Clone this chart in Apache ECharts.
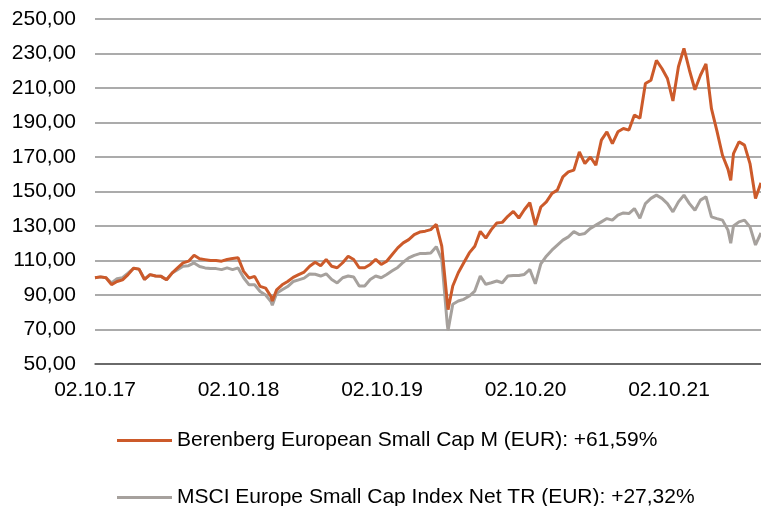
<!DOCTYPE html>
<html>
<head>
<meta charset="utf-8">
<script src="https://cdn.jsdelivr.net/npm/echarts@6/dist/echarts.min.js"></script>
<style>
    html, body { margin: 0; padding: 0; background: #fff; }
    #main { width: 761px; height: 506px; }
</style>
</head>
<body>
<div id="main"></div>
<script>
// dates of the sampled points (about every two weeks, plus a few turning points)
const dates = [
    '2017-10-02', '2017-10-16', '2017-10-30', '2017-11-13', '2017-11-27', '2017-12-11', '2017-12-25',
    '2018-01-08', '2018-01-22', '2018-02-05', '2018-02-19', '2018-03-05', '2018-03-19', '2018-04-02',
    '2018-04-16', '2018-04-30', '2018-05-14', '2018-05-28', '2018-06-11', '2018-06-25', '2018-07-09',
    '2018-07-23', '2018-08-06', '2018-08-20', '2018-09-03', '2018-09-17', '2018-10-01', '2018-10-15',
    '2018-10-29', '2018-11-12', '2018-11-26', '2018-12-10', '2018-12-24', '2018-12-27',
    '2019-01-07', '2019-01-21', '2019-02-04', '2019-02-18', '2019-03-04', '2019-03-18', '2019-04-01',
    '2019-04-15', '2019-04-29', '2019-05-13', '2019-05-27', '2019-06-10', '2019-06-24', '2019-07-08',
    '2019-07-22', '2019-08-05', '2019-08-19', '2019-09-02', '2019-09-16', '2019-09-30', '2019-10-14',
    '2019-10-28', '2019-11-11', '2019-11-25', '2019-12-09', '2019-12-23',
    '2020-01-06', '2020-01-20', '2020-02-03', '2020-02-17', '2020-03-02', '2020-03-16', '2020-03-18',
    '2020-03-30', '2020-04-13', '2020-04-27', '2020-05-11', '2020-05-25', '2020-06-08', '2020-06-22',
    '2020-07-06', '2020-07-20', '2020-08-03', '2020-08-17', '2020-08-31', '2020-09-14', '2020-09-28',
    '2020-10-12', '2020-10-26', '2020-11-09', '2020-11-23', '2020-12-07', '2020-12-21',
    '2021-01-04', '2021-01-18', '2021-02-01', '2021-02-15', '2021-03-01', '2021-03-15', '2021-03-29',
    '2021-04-12', '2021-04-26', '2021-05-10', '2021-05-24', '2021-06-07', '2021-06-21', '2021-07-05',
    '2021-07-19', '2021-08-02', '2021-08-16', '2021-08-30', '2021-09-13', '2021-09-27', '2021-10-11',
    '2021-10-25', '2021-11-08', '2021-11-22', '2021-12-06', '2021-12-20',
    '2022-01-03', '2022-01-17', '2022-01-31', '2022-02-14', '2022-02-28', '2022-03-07', '2022-03-14',
    '2022-03-28', '2022-04-11', '2022-04-25', '2022-05-09', '2022-05-23'
]

const fundValues = [
    100, 100.5, 100, 96, 97.8, 98.8, 101.8,
    105.5, 105, 99, 101.8, 101, 100.8, 98.8,
    102.7, 105.7, 108.6, 109.6, 113, 111, 110.5,
    110, 110, 109.6, 110.6, 111.2, 111.6, 103.7,
    99.8, 100.8, 95, 94, 89, 86.5,
    93, 95.9, 97.8, 100.2, 101.8, 103.3, 106.7,
    109, 107, 110.6, 106.7, 105.8, 108.7, 112.5,
    110.6, 105.8, 105.8, 107.7, 110.6, 107.7, 109.6,
    113.5, 117.3, 120.2, 122.1, 125,
    126.5, 127, 127.9, 131, 118.3, 86, 81.5,
    95.2, 102.9, 108.7, 114.4, 118.3, 126.9, 123,
    127.9, 131.7, 132.1, 135.6, 138.5, 134.6, 139.4,
    143.5, 130.5, 141, 144, 148.8, 150.8,
    158.5, 161.4, 162.4, 173, 166.2, 170, 165.3,
    179.8, 184.6, 177.8, 184.6, 186.5, 185.6, 194.3,
    192.5, 212.6, 214.5, 226, 221.3, 215.5, 202.5,
    222.3, 233, 220.3, 209, 217.4,
    224, 198, 185, 171, 163, 156.5, 172,
    178.8, 176.9, 166.2, 146, 155
]

const indexValues = [
    100, 100.5, 100, 97, 99.4, 100, 102.7,
    105.5, 105, 99, 101.8, 101, 100.8, 98.8,
    102.7, 104.7, 106.7, 107, 108.6, 106.5, 105.7,
    105.3, 105.3, 104.7, 105.7, 104.7, 105.7, 100,
    95.9, 95.9, 92, 90, 86, 84,
    91, 93, 94.9, 97.8, 98.8, 99.8, 102.2,
    102, 101, 102.3, 99, 97, 100, 101,
    100.4, 95.2, 95.2, 99, 101, 100, 101.9,
    104, 106, 109, 111.5, 113,
    114, 114, 114.4, 118, 110.6, 73, 69.5,
    84.6, 86.5, 87.5, 89.4, 92.3, 101, 96.2,
    97.1, 98.1, 97.1, 101, 101.3, 101.3, 101.9,
    104.8, 96.5, 108, 112.5, 116, 118.9,
    121.8, 123.7, 126.7, 125, 125.7, 128.6, 130.5,
    132.4, 134.3, 133.4, 136.3, 137.6, 137.2, 140.1,
    134.5, 143, 146, 147.9, 146, 143, 138.2,
    144, 147.9, 143, 139.1, 145,
    147, 135.3, 134.3, 133.4, 127.6, 120, 130,
    132.4, 133.4, 129.5, 119, 126
]

const seriesNames = [
    'Berenberg European Small Cap M (EUR): +61,59%',
    'MSCI Europe Small Cap Index Net TR (EUR): +27,32%'
]

const xTickLabels = ['02.10.17', '02.10.18', '02.10.19', '02.10.20', '02.10.21']

const DAY = 24 * 3600 * 1000
const start = Date.parse(dates[0])
const lastDay = Math.round((Date.parse(dates[dates.length - 1]) - start) / DAY)

function pairs(values) {
    return dates.map((d, i) => [Math.round((Date.parse(d) - start) / DAY), values[i]])
}

const font = "'Liberation Sans', Arial, sans-serif"

const chart = echarts.init(document.getElementById('main'))

chart.setOption({
    animation: false,
    textStyle: { fontFamily: font },
    grid: { left: 95, right: 0, top: 19, bottom: 142 },
    legend: [
        {
            data: [seriesNames[0]],
            left: 112, top: 425,
            icon: 'rect', itemWidth: 55, itemHeight: 3,
            textStyle: { fontSize: 21, color: '#000', fontFamily: font }
        },
        {
            data: [seriesNames[1]],
            left: 112, top: 482,
            icon: 'rect', itemWidth: 55, itemHeight: 3,
            textStyle: { fontSize: 21, color: '#000', fontFamily: font }
        }
    ],
    xAxis: {
        type: 'value',
        min: 0,
        max: lastDay,
        interval: 365,
        axisLine: { show: true, onZero: false, lineStyle: { color: '#555', width: 1.5 } },
        axisTick: { show: false },
        splitLine: { show: false },
        axisLabel: {
            fontSize: 21, color: '#000', fontFamily: font, margin: 16,
            showMaxLabel: false,
            formatter: v => (v % 365 === 0 ? xTickLabels[v / 365] || '' : '')
        }
    },
    yAxis: {
        type: 'value',
        min: 50,
        max: 250,
        interval: 20,
        axisLine: { show: false },
        axisTick: { show: false },
        splitLine: { lineStyle: { color: '#8f8f8f', width: 1.5 } },
        axisLabel: {
            fontSize: 21, color: '#000', fontFamily: font, margin: 19,
            formatter: v => v.toFixed(2).replace('.', ',')
        }
    },
    series: [
        {
            name: seriesNames[1],
            type: 'line',
            data: pairs(indexValues),
            symbol: 'none',
            color: '#a6a19d',
            lineStyle: { width: 3, color: '#a6a19d' }
        },
        {
            name: seriesNames[0],
            type: 'line',
            data: pairs(fundValues),
            symbol: 'none',
            color: '#cc5a2a',
            lineStyle: { width: 3, color: '#cc5a2a' }
        }
    ]
})
</script>
</body>
</html>
